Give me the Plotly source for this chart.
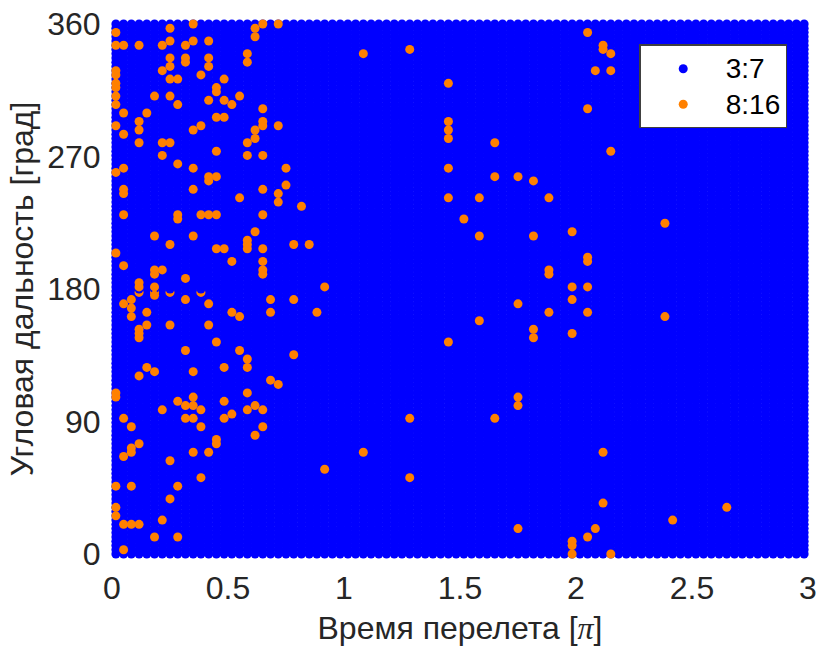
import plotly.graph_objects as go

x_ticks = [0, 0.5, 1, 1.5, 2, 2.5, 3]
x_tick_labels = ["0", "0.5", "1", "1.5", "2", "2.5", "3"]
y_ticks = [0, 90, 180, 270, 360]
y_tick_labels = ["0", "90", "180", "270", "360"]

tof_grid = [
    0.0167, 0.05, 0.0833, 0.1167, 0.15, 0.1833, 0.2167, 0.25, 0.2833, 0.3167,
    0.35, 0.3833, 0.4167, 0.45, 0.4833, 0.5167, 0.55, 0.5833, 0.6167, 0.65,
    0.6833, 0.7167, 0.75, 0.7833, 0.8167, 0.85, 0.8833, 0.9167, 0.95, 0.9833,
    1.0167, 1.05, 1.0833, 1.1167, 1.15, 1.1833, 1.2167, 1.25, 1.2833, 1.3167,
    1.35, 1.3833, 1.4167, 1.45, 1.4833, 1.5167, 1.55, 1.5833, 1.6167, 1.65,
    1.6833, 1.7167, 1.75, 1.7833, 1.8167, 1.85, 1.8833, 1.9167, 1.95, 1.9833,
    2.0167, 2.05, 2.0833, 2.1167, 2.15, 2.1833, 2.2167, 2.25, 2.2833, 2.3167,
    2.35, 2.3833, 2.4167, 2.45, 2.4833, 2.5167, 2.55, 2.5833, 2.6167, 2.65,
    2.6833, 2.7167, 2.75, 2.7833, 2.8167, 2.85, 2.8833, 2.9167, 2.95, 2.9833,
]
range_grid = [
    0, 2.88, 5.76, 8.64, 11.52, 14.4, 17.28, 20.16, 23.04, 25.92,
    28.8, 31.68, 34.56, 37.44, 40.32, 43.2, 46.08, 48.96, 51.84, 54.72,
    57.6, 60.48, 63.36, 66.24, 69.12, 72, 74.88, 77.76, 80.64, 83.52,
    86.4, 89.28, 92.16, 95.04, 97.92, 100.8, 103.68, 106.56, 109.44, 112.32,
    115.2, 118.08, 120.96, 123.84, 126.72, 129.6, 132.48, 135.36, 138.24, 141.12,
    144, 146.88, 149.76, 152.64, 155.52, 158.4, 161.28, 164.16, 167.04, 169.92,
    172.8, 175.68, 178.56, 181.44, 184.32, 187.2, 190.08, 192.96, 195.84, 198.72,
    201.6, 204.48, 207.36, 210.24, 213.12, 216, 218.88, 221.76, 224.64, 227.52,
    230.4, 233.28, 236.16, 239.04, 241.92, 244.8, 247.68, 250.56, 253.44, 256.32,
    259.2, 262.08, 264.96, 267.84, 270.72, 273.6, 276.48, 279.36, 282.24, 285.12,
    288, 290.88, 293.76, 296.64, 299.52, 302.4, 305.28, 308.16, 311.04, 313.92,
    316.8, 319.68, 322.56, 325.44, 328.32, 331.2, 334.08, 336.96, 339.84, 342.72,
    345.6, 348.48, 351.36, 354.24, 357.12, 360,
]

# 8:16 resonance solutions: each line lists one column of the grid
orange_col = (
    [0] * 16 + [1] * 13 + [2] * 8 + [3] * 12 + [4] * 4 + [5] * 8 + [6] * 7 + [7] * 11
    + [8] * 8 + [9] * 8 + [10] * 11 + [11] * 6 + [12] * 10 + [13] * 10 + [14] * 7
    + [15] * 4 + [16] * 4 + [17] * 11 + [18] * 7 + [19] * 13 + [20] * 3 + [21] * 5
    + [22] * 2 + [23] * 3 + [24] + [25] + [26] + [27] * 2 + [32] * 2 + [38] * 3
    + [43] * 7 + [45] + [47] * 3 + [49] * 3 + [52] * 5 + [54] * 4 + [56] * 4
    + [59] * 7 + [61] * 7 + [62] * 2 + [63] * 4 + [64] * 4 + [71] * 2 + [72] + [79]
)
orange_row = [
    123, 120, 114, 113, 111, 110, 108, 106, 101, 90, 71, 38, 37, 16, 11, 9,
    120, 104, 99, 91, 86, 85, 80, 68, 59, 32, 23, 7, 1,
    60, 58, 56, 30, 25, 24, 16, 7,
    120, 102, 100, 97, 64, 63, 53, 52, 51, 42, 26, 7,
    104, 57, 54, 44,
    108, 75, 67, 66, 63, 61, 43, 4,
    120, 114, 97, 94, 67, 34, 8,
    124, 121, 117, 115, 112, 108, 97, 73, 54, 22, 13,
    112, 106, 92, 80, 79, 36, 16, 4,
    120, 117, 116, 65, 60, 48, 35, 32,
    125, 121, 100, 91, 86, 75, 43, 37, 35, 32, 24,
    113, 101, 80, 34, 30, 18,
    121, 117, 115, 107, 89, 88, 80, 59, 54, 24,
    110, 109, 103, 95, 89, 80, 72, 50, 27, 26,
    112, 107, 103, 72, 44, 36, 32,
    106, 69, 57, 33,
    108, 84, 56, 48,
    118, 116, 97, 94, 74, 73, 72, 46, 44, 38, 34,
    124, 122, 100, 98, 76, 35, 28,
    125, 105, 102, 101, 94, 86, 80, 72, 69, 67, 66, 34, 30,
    60, 57, 41,
    125, 101, 85, 83, 40,
    91, 87,
    73, 60, 47,
    82,
    73,
    57,
    63, 20,
    118, 24,
    119, 32, 18,
    111, 102, 100, 98, 91, 84, 50,
    79,
    84, 75, 55,
    97, 89, 32,
    89, 59, 37, 35, 6,
    88, 75, 53, 51,
    84, 67, 66, 57,
    76, 63, 60, 52, 3, 2, 0,
    123, 105, 70, 69, 63, 57, 4,
    114, 6,
    120, 119, 24, 12,
    118, 114, 95, 0,
    78, 56,
    8,
    11,
]

# Points near 180 degrees where a 3:7 marker partly hides an 8:16 marker
hidden_col = [3, 5, 7, 11]
hidden_range = [177.7, 177.7, 177.7, 177.7]
cover_range = [180, 180, 180, 180]

BLUE = "#0000FF"
ORANGE = "#FF8000"
TEXT = "#262626"
FONT = "Liberation Sans"
MARK = 9

blue_x = [t for t in tof_grid for _ in range_grid]
blue_y = [r for _ in tof_grid for r in range_grid]

fig = go.Figure()
fig.add_trace(go.Scatter(x=blue_x, y=blue_y, mode="markers",
                         name="<span style='font-size:28px'>3:7</span>", cliponaxis=False,
                         marker=dict(color=BLUE, size=MARK)))
fig.add_trace(go.Scatter(x=[tof_grid[i] for i in hidden_col], y=hidden_range, mode="markers",
                         showlegend=False, cliponaxis=False, marker=dict(color=ORANGE, size=MARK)))
fig.add_trace(go.Scatter(x=[tof_grid[i] for i in hidden_col], y=cover_range, mode="markers",
                         showlegend=False, cliponaxis=False, marker=dict(color=BLUE, size=MARK)))
fig.add_trace(go.Scatter(x=[tof_grid[i] for i in orange_col],
                         y=[range_grid[j] for j in orange_row],
                         mode="markers", name="<span style='font-size:28px'>8:16</span>", cliponaxis=False,
                         marker=dict(color=ORANGE, size=MARK)))

fig.update_layout(
    width=821, height=646,
    margin=dict(l=111.8, r=13.2, t=23.5, b=92, pad=0, autoexpand=False),
    paper_bgcolor="white", plot_bgcolor="white",
    font=dict(family=FONT, color=TEXT, size=30),
    showlegend=True,
    legend=dict(
        x=0.7575, xanchor="left", y=0.9614, yanchor="top",
        bgcolor="white", bordercolor="#404040", borderwidth=1.5,
        font=dict(family=FONT, size=25, color="#000000"),
        itemwidth=75, traceorder="normal",
    ),
    xaxis=dict(
        range=[0, 3], tickvals=x_ticks, ticktext=x_tick_labels, showgrid=False, zeroline=False,
        showline=False, layer="below traces", ticks="outside", ticklen=6, automargin=False,
        tickcolor="rgba(0,0,0,0)", tickfont=dict(size=32, color=TEXT),
        title=dict(text="Время перелета [<span style=\"font-family:'Liberation Serif'\"><i>π</i></span>]",
                   font=dict(size=32, color=TEXT), standoff=18),
    ),
    yaxis=dict(
        range=[0, 360], tickvals=y_ticks, ticktext=y_tick_labels, showgrid=False, zeroline=False,
        showline=False, layer="below traces", ticks="outside", ticklen=4, automargin=False,
        tickcolor="rgba(0,0,0,0)", tickfont=dict(size=32, color=TEXT),
        title=dict(text="Угловая дальность [град]", font=dict(size=32, color=TEXT), standoff=4),
    ),
)

fig.write_html("out.html", config=dict(displayModeBar=False), post_script="document.body.style.margin='0';")
